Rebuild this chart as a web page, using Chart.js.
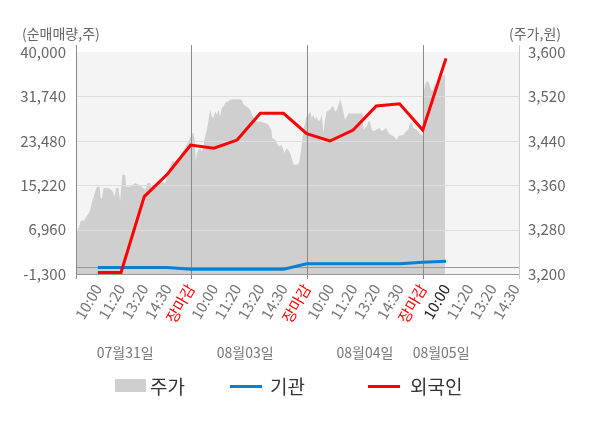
<!DOCTYPE html>
<html>
<head>
<meta charset="utf-8">
<script src="https://cdn.jsdelivr.net/npm/chart.js@4"></script>
<style>
  body { margin: 0; background: #fff; }
  #wrap { position: relative; width: 600px; height: 428px; font-family: 'Noto Sans CJK KR', 'Noto Sans', sans-serif; }
  .unit { position: absolute; top: 23px; font-size: 14px; color: #666; line-height: 20px; }
  .leg { position: absolute; top: 374px; height: 24px; line-height: 24px; font-size: 19px; color: #333; }
  .mark { position: absolute; }
</style>
</head>
<body>
<div id="wrap">
  <canvas id="stockChart" width="600" height="428"></canvas>
  <span class="unit" style="left:22px">(순매매량,주)</span>
  <span class="unit" style="left:509px">(주가,원)</span>
  <div class="mark" style="left:115px;top:379px;width:31px;height:13px;background:#cfcfcf"></div>
  <span class="leg" style="left:150px">주가</span>
  <div class="mark" style="left:230px;top:385px;width:32px;height:3px;background:#0a80d0"></div>
  <span class="leg" style="left:270px">기관</span>
  <div class="mark" style="left:368px;top:385px;width:32px;height:3px;background:#ff0000"></div>
  <span class="leg" style="left:410px">외국인</span>
</div>
<script>
'use strict';

// x axis slots: 1..19 = tick labels, day closes at 5, 10, 15
const timeLabels = ['10:00', '11:20', '13:20', '14:30', '장마감',
                    '10:00', '11:20', '13:20', '14:30', '장마감',
                    '10:00', '11:20', '13:20', '14:30', '장마감',
                    '10:00', '11:20', '13:20', '14:30'];
const dayNames = ['07월31일', '08월03일', '08월04일', '08월05일'];
const dayLabelSlots = [2.18, 7.35, 12.51, 15.79];
const dayCloseSlots = [5, 10, 15];

const leftTicks = [-1300, 6960, 15220, 23480, 31740, 40000];
const rightTicks = [3200, 3280, 3360, 3440, 3520, 3600];

// net buying (shares), one value per tick slot 1..16
const flowSlots = [1, 2, 3, 4, 5, 6, 7, 8, 9, 10, 11, 12, 13, 14, 15, 16];
const institution = [-100, -100, -100, -100, -400, -400, -400, -400, -400, 600, 600, 600, 600, 600, 900, 1050];
const foreigner = [-1000, -1000, 13100, 17300, 22700, 22100, 23620, 28600, 28600, 24800, 23440, 25480, 29950, 30380, 25480, 38820];

// intraday price
const priceTimes = [
  0.05, 0.13, 0.21, 0.28, 0.39, 0.50, 0.60, 0.67, 0.74, 0.82, 0.89, 0.96, 1.07, 1.13, 1.17, 1.25,
  1.39, 1.53, 1.65, 1.72, 1.79, 1.89, 1.96, 2.01, 2.06, 2.18, 2.22, 2.39, 2.61, 2.75, 2.90, 3.04,
  3.14, 3.26, 3.33, 3.47, 3.62, 3.76, 3.90, 4.05, 4.19, 4.33, 4.48, 4.62, 4.76, 4.91, 5.01, 5.09,
  5.12, 5.17, 5.22, 5.27, 5.34, 5.41, 5.48, 5.55, 5.62, 5.70, 5.77, 5.84, 5.91, 5.98, 6.06, 6.13,
  6.20, 6.27, 6.34, 6.41, 6.49, 6.60, 6.70, 6.85, 7.06, 7.20, 7.28, 7.42, 7.56, 7.71, 7.85, 7.99,
  8.21, 8.35, 8.47, 8.52, 8.64, 8.78, 8.93, 9.04, 9.14, 9.24, 9.33, 9.43, 9.57, 9.67, 9.76, 9.82,
  9.86, 9.93, 9.97, 10.07, 10.15, 10.22, 10.29, 10.36, 10.43, 10.51, 10.58, 10.65, 10.72, 10.79, 10.86, 11.01,
  11.08, 11.15, 11.22, 11.30, 11.37, 11.44, 11.51, 11.58, 11.65, 11.73, 11.80, 12.41, 12.44, 12.59, 12.66, 12.73,
  12.80, 12.87, 13.05, 13.13, 13.23, 13.33, 13.42, 13.52, 13.62, 13.74, 13.88, 13.95, 14.17, 14.28, 14.38, 14.45,
  14.53, 14.60, 14.74, 14.86, 14.93, 14.97, 15.00, 15.10, 15.17, 15.24, 15.32, 15.39, 15.46, 15.53, 15.60, 15.67,
  15.75, 15.82, 15.89, 15.96
];
const prices = [
  3270, 3279, 3288, 3297, 3295, 3303, 3309, 3315, 3328, 3339, 3348, 3357, 3357, 3337, 3335, 3355,
  3355, 3353, 3348, 3339, 3355, 3355, 3330, 3357, 3379, 3379, 3357, 3357, 3364, 3361, 3357, 3352,
  3364, 3364, 3352, 3357, 3364, 3366, 3364, 3382, 3403, 3403, 3409, 3418, 3427, 3439, 3448, 3454,
  3454, 3442, 3403, 3418, 3424, 3427, 3421, 3430, 3448, 3460, 3478, 3496, 3484, 3481, 3493, 3487,
  3496, 3484, 3499, 3502, 3508, 3511, 3514, 3515, 3515, 3514, 3505, 3502, 3496, 3481, 3475, 3475,
  3472, 3469, 3460, 3445, 3442, 3430, 3432, 3418, 3427, 3421, 3412, 3397, 3397, 3400, 3424, 3445,
  3460, 3472, 3481, 3487, 3493, 3481, 3487, 3478, 3484, 3475, 3478, 3487, 3454, 3478, 3493, 3496,
  3502, 3502, 3493, 3496, 3505, 3515, 3505, 3493, 3478, 3484, 3489, 3489, 3460, 3466, 3475, 3475,
  3460, 3457, 3461, 3463, 3457, 3460, 3463, 3454, 3451, 3448, 3442, 3448, 3451, 3457, 3460, 3472,
  3472, 3463, 3460, 3454, 3451, 3451, 3517, 3541, 3547, 3547, 3538, 3529, 3535, 3544, 3535, 3544,
  3550, 3556, 3559, 3559
];

const FONT = "'Noto Sans CJK KR', 'Noto Sans', sans-serif";

const toPoints = (xs, ys) => xs.map((x, i) => ({x: x, y: ys[i]}));

const chartDecor = {
    id: 'chartDecor',
    beforeDatasetsDraw(chart) {
        const {ctx, chartArea: a} = chart;
        ctx.save();
        ctx.fillStyle = '#f4f4f4';
        ctx.fillRect(a.left, a.top, a.right - a.left, a.bottom - a.top);
        ctx.restore();
    },
    afterDatasetDraw(chart, args) {
        if (args.index !== 0) return;
        const {ctx, chartArea: a} = chart;
        const x = chart.scales.x;
        const y = chart.scales.y;
        ctx.save();
        ctx.lineWidth = 1;
        // horizontal grid
        ctx.strokeStyle = '#dddddd';
        leftTicks.slice(1, -1).forEach(v => {
            const py = Math.round(y.getPixelForValue(v)) + 0.5;
            ctx.beginPath(); ctx.moveTo(a.left, py); ctx.lineTo(a.right, py); ctx.stroke();
        });
        // zero line
        ctx.strokeStyle = '#999999';
        let py = Math.round(y.getPixelForValue(0)) + 0.5;
        ctx.beginPath(); ctx.moveTo(a.left, py); ctx.lineTo(a.right, py); ctx.stroke();
        // bottom axis
        py = Math.round(a.bottom) + 0.5;
        ctx.beginPath(); ctx.moveTo(a.left, py); ctx.lineTo(a.right, py); ctx.stroke();
        // day separators and left axis
        ctx.strokeStyle = '#8a8a8a';
        const xs = [a.left].concat(dayCloseSlots.map(s => x.getPixelForValue(s)));
        xs.forEach(px => {
            px = Math.round(px) + 0.5;
            ctx.beginPath(); ctx.moveTo(px, a.top - 7); ctx.lineTo(px, a.bottom + 5); ctx.stroke();
        });
        // right axis
        ctx.strokeStyle = '#cccccc';
        const rx = Math.round(a.right) - 0.5;
        ctx.beginPath(); ctx.moveTo(rx, a.top - 7); ctx.lineTo(rx, a.bottom + 5); ctx.stroke();
        ctx.restore();
    },
    afterDraw(chart) {
        const {ctx} = chart;
        const x = chart.scales.x;
        ctx.save();
        ctx.font = '14px ' + FONT;
        ctx.fillStyle = '#777';
        ctx.textAlign = 'center';
        ctx.textBaseline = 'middle';
        dayNames.forEach((d, i) => {
            ctx.fillText(d, x.getPixelForValue(dayLabelSlots[i]), 353);
        });
        ctx.restore();
    }
};

new Chart('stockChart', {
    data: {
        datasets: [{
            type: 'line',
            label: '주가',
            data: toPoints(priceTimes, prices),
            yAxisID: 'y1',
            fill: 'start',
            backgroundColor: '#cfcfcf',
            borderWidth: 0,
            pointRadius: 0,
            order: 3
        }, {
            type: 'line',
            label: '기관',
            data: toPoints(flowSlots, institution),
            yAxisID: 'y',
            borderColor: '#0a80d0',
            borderWidth: 3,
            pointRadius: 0,
            fill: false,
            order: 2
        }, {
            type: 'line',
            label: '외국인',
            data: toPoints(flowSlots, foreigner),
            yAxisID: 'y',
            borderColor: '#ff0000',
            borderWidth: 3,
            pointRadius: 0,
            fill: false,
            order: 1
        }]
    },
    options: {
        responsive: false,
        animation: false,
        layout: {padding: {top: 52, bottom: 0, left: 0, right: 0}},
        plugins: {legend: {display: false}, tooltip: {enabled: false}},
        scales: {
            x: {
                type: 'linear',
                min: 0.06,
                max: 19.19,
                afterBuildTicks: s => { s.ticks = timeLabels.map((t, i) => ({value: i + 1})); },
                afterFit: s => { s.height = 154; },
                grid: {display: false, drawTicks: false},
                border: {display: false},
                ticks: {
                    autoSkip: false,
                    minRotation: 60,
                    maxRotation: 60,
                    padding: 7,
                    font: {family: FONT, size: 15},
                    color: c => timeLabels[c.index] === '장마감' ? '#ff0000' : (c.index === 15 ? '#222' : '#777'),
                    callback: (v, i) => timeLabels[i]
                }
            },
            y: {
                position: 'left',
                min: -1300,
                max: 40000,
                afterBuildTicks: s => { s.ticks = leftTicks.map(v => ({value: v})); },
                afterFit: s => { s.width = 76; },
                grid: {display: false, drawTicks: false},
                border: {display: false},
                ticks: {
                    padding: 10,
                    font: {family: FONT, size: 15},
                    color: '#666',
                    callback: v => v.toLocaleString('en-US')
                }
            },
            y1: {
                position: 'right',
                min: 3200,
                max: 3600,
                afterBuildTicks: s => { s.ticks = rightTicks.map(v => ({value: v})); },
                afterFit: s => { s.width = 80; },
                grid: {display: false, drawTicks: false},
                border: {display: false},
                ticks: {
                    padding: 8,
                    font: {family: FONT, size: 15},
                    color: '#666',
                    callback: v => v.toLocaleString('en-US')
                }
            }
        }
    },
    plugins: [chartDecor]
});
</script>
</body>
</html>
